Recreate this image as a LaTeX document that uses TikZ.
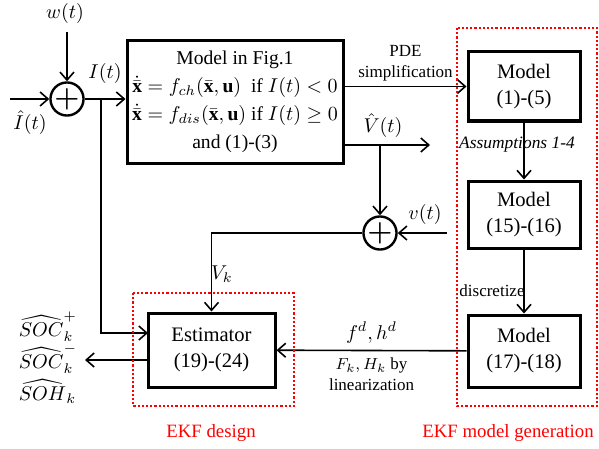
\documentclass[tikz,border=0pt]{standalone}
\usepackage{amsmath, amssymb, bm}
\usepackage{fontspec}
\setmainfont{Liberation Serif}
\usetikzlibrary{arrows.meta}

\tikzset{
  blk/.style={draw, line width=1.5pt, align=center, inner sep=1pt},
  sumnode/.style={draw, circle, line width=1.2pt, minimum size=12pt, inner sep=0pt},
  small/.style={font=\fontsize{8.5}{10.5}\selectfont},
  ekfbox/.style={red, densely dotted, line width=1.1pt},
  ekflabel/.style={red, font=\fontsize{9.4}{11}\selectfont}
}

\begin{document}
\begin{tikzpicture}[x=0.5pt, y=-0.5pt, font=\fontsize{10.3}{13}\selectfont,
    >={Straight Barb[length=4pt, width=7pt]}, line width=0.8pt]
    \useasboundingbox (0,0) rectangle (599,449);
    % blocks
    \node[blk, minimum width=108pt, minimum height=61pt, font=\fontsize{9.8}{14}\selectfont] (model) at (235,102)
        {Model in Fig.1\\
         $\dot{\bar{\mathbf{x}}} = f_{ch}(\bar{\mathbf{x}},\mathbf{u})$\ \ if $I(t)<0$\\
         $\dot{\bar{\mathbf{x}}} = f_{dis}(\bar{\mathbf{x}},\mathbf{u})$ if $I(t)\geq 0$\\
         and (1)-(3)};
    \node[blk, minimum width=56pt, minimum height=34.5pt] (m1) at (524,86.5) {Model\\(1)-(5)};
    \node[blk, minimum width=56pt, minimum height=33.5pt] (m2) at (524,214.5) {Model\\(15)-(16)};
    \node[blk, minimum width=56pt, minimum height=36pt] (m3) at (524,351) {Model\\(17)-(18)};
    \node[blk, minimum width=63.5pt, minimum height=37pt] (est) at (211.5,350) {Estimator\\(19)-(24)};
    % sums
    \node[sumnode] (sum1) at (67,99) {\Large$\bm{+}$};
    \node[sumnode] (sum2) at (380,233) {\Large$\bm{+}$};
    % free ends
    \coordinate (wtop) at (67,32);
    \coordinate (iin) at (10,99);
    \coordinate (br1) at (101,99);
    \coordinate (estin) at (148,333);
    \coordinate (vhat) at (430,145);
    \coordinate (br2) at (380,145);
    \coordinate (vin) at (447,233);
    \coordinate (estout) at (148,360);
    \coordinate (sout) at (85,360);

    \draw[->] (wtop) -- (sum1);
    \node at (65,14) {$w(t)$};
    \draw[->] (iin) -- (sum1);
    \node at (30,123) {$\hat{I}(t)$};
    \draw[->] (sum1) -- (sum1 -| model.west);
    \node at (105,74) {$I(t)$};
    \draw[->] (br1) |- (estin);

    \draw[->] (model.east |- m1.west) -- node[above, align=center, small, yshift=-1pt] {PDE\\simplification} (m1.west);
    \draw[->] (model.east |- vhat) -- (vhat);
    \node at (383,126) {$\hat{V}(t)$};
    \draw[->] (br2) -- (sum2);
    \draw[->] (vin) -- (sum2);
    \node at (425,214) {$v(t)$};
    \draw[->] (sum2) -| (est.north);
    \node at (222,274) {$V_k$};

    \draw[->] (m1) -- (m2);
    \node[font=\fontsize{8.7}{10.5}\selectfont\itshape] at (517,145) {Assumptions 1-4};
    \draw[->] (m2) -- (m3);
    \node[small] at (492,291) {discretize};
    \draw[->] (m3) -- node[above] {$f^d, h^d$}
        node[below, align=center, small] {$F_k, H_k$ by\\linearization} (est);

    \draw[->] (estout) -- (sout);
    \node[align=left, font=\fontsize{10.3}{16}\selectfont] at (48,358)
        {$\widehat{SOC}_k^+$\\$\widehat{SOC}_k^-$\\$\widehat{SOH}_k$};

    % EKF regions
    \draw[ekfbox] (133,293) rectangle (294,406);
    \draw[ekfbox] (457,28) rectangle (597,406);
    \node[ekflabel] at (211,433) {EKF design};
    \node[ekflabel] at (508,433) {EKF model generation};
\end{tikzpicture}
\end{document}
